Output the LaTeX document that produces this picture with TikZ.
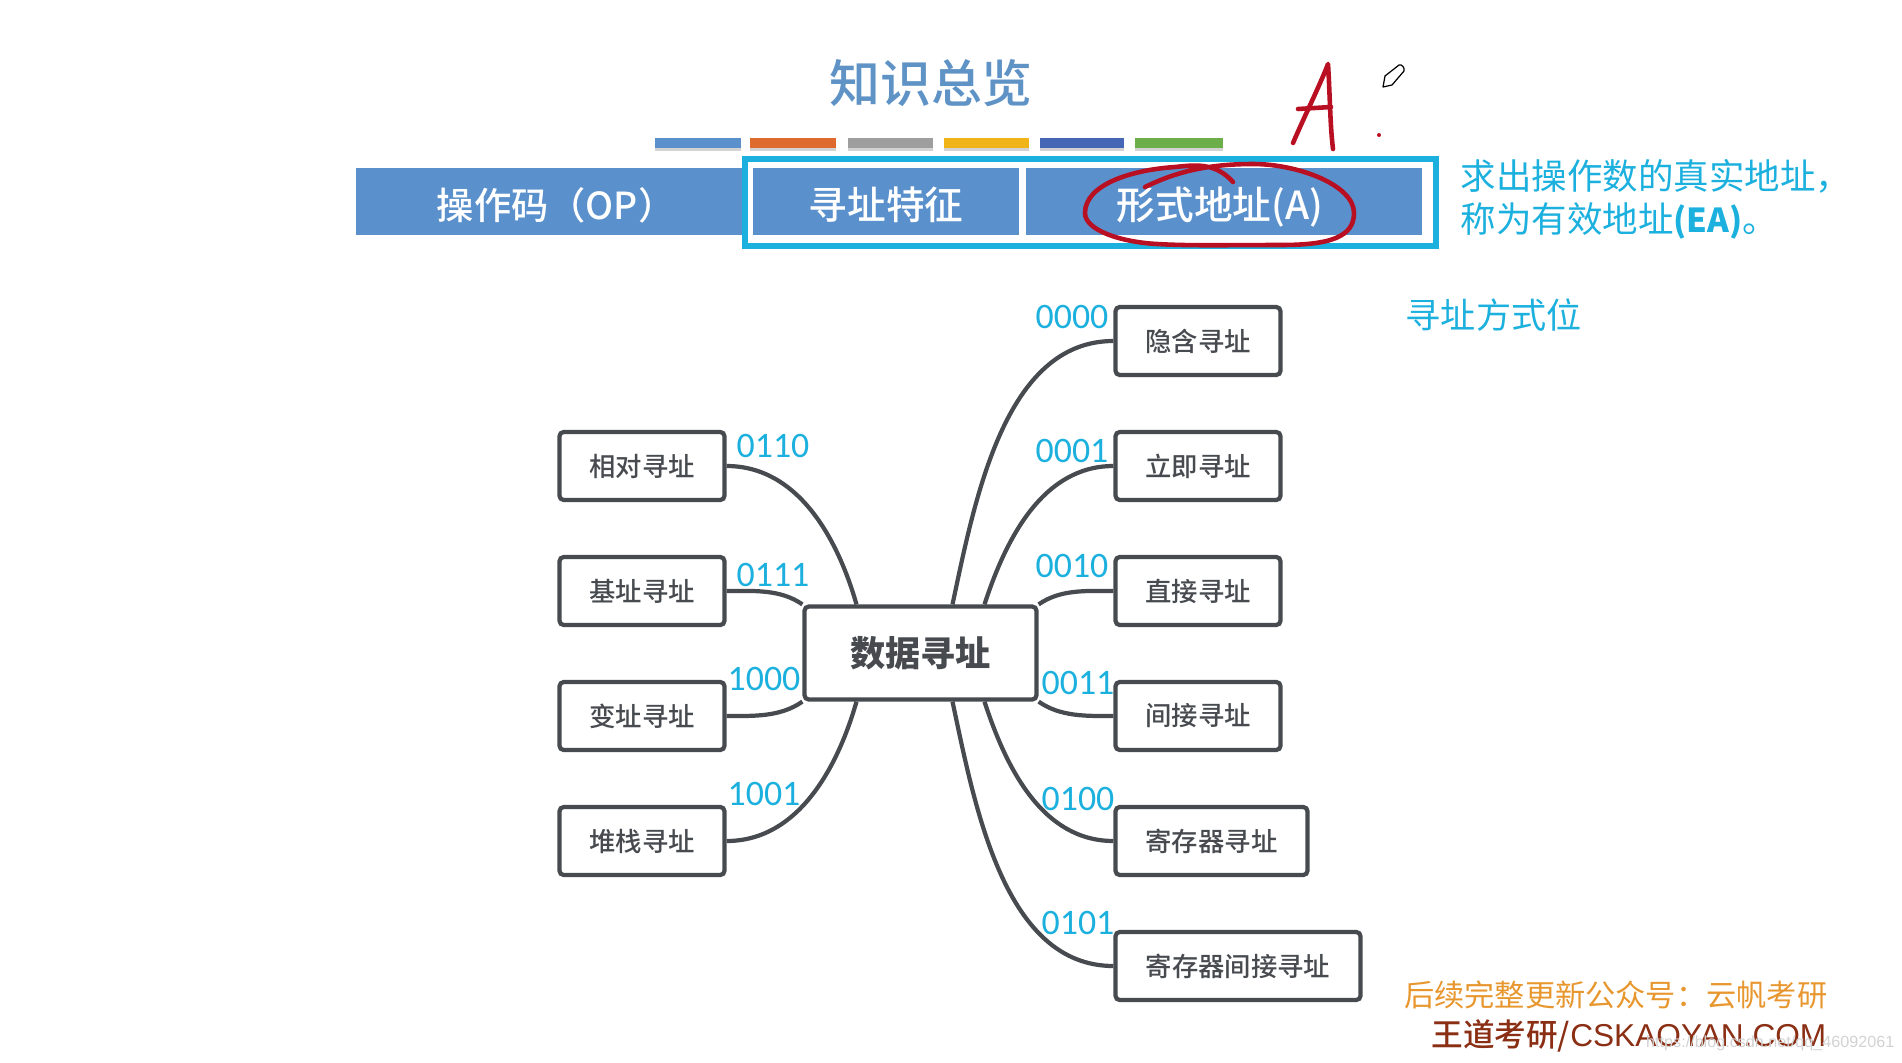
\documentclass[tikz,border=0pt]{standalone}
\usepackage{fontspec}
\setmainfont{Noto Sans CJK SC}
\newfontfamily\cjkmedium{Noto Sans CJK SC Medium}
\newfontfamily\arialfont{Liberation Sans}
\newfontfamily\digitfont{Carlito}
\usepackage{tikz}
\usetikzlibrary{arrows.meta,positioning,shadows}
\definecolor{barblue}{HTML}{5A90CC}
\definecolor{titleblue}{HTML}{5F93C6}
\definecolor{framecyan}{HTML}{1CB0DE}
\definecolor{boxgray}{HTML}{474B50}
\definecolor{inkred}{HTML}{B80F22}
\definecolor{signorange}{HTML}{E8962E}
\definecolor{signred}{HTML}{8A2E14}
\definecolor{barorange}{HTML}{DF6A2E}
\definecolor{bargray}{HTML}{9E9E9E}
\definecolor{baryellow}{HTML}{F0B418}
\definecolor{barindigo}{HTML}{4567B5}
\definecolor{bargreen}{HTML}{6BAE4A}

\begin{document}
\begin{tikzpicture}[
    box/.style={rectangle, draw=boxgray, fill=white, text=boxgray, line width=1.2pt,
                rounded corners=1.2pt, minimum height=0.68cm, inner sep=0pt,
                font=\cjkmedium\fontsize{7.5}{9}\selectfont},
    hub/.style={box, minimum width=2.32cm, minimum height=0.93cm,
                font=\fontsize{10}{12}\selectfont\bfseries},
    link/.style={draw=boxgray, line width=1.2pt},
    code/.style={text=framecyan, inner sep=0pt, font=\digitfont\fontsize{10.2}{12}\selectfont},
    field/.style={rectangle, fill=barblue, inner sep=0pt, minimum height=0.67cm},
    fieldtext/.style={text=white, inner sep=0pt, text height=0.4cm, text depth=0.05cm,
                      font=\cjkmedium\fontsize{11}{13}\selectfont},
    bar/.style={rectangle, minimum height=0.1cm, inner sep=0pt, drop shadow={shadow xshift=0pt, shadow yshift=-0.03cm, opacity=0.35}},
    note/.style={text=framecyan, inner sep=0pt, anchor=west},
    ink/.style={draw=inkred, line width=1.3pt, line cap=round, line join=round}
  ]
  \useasboundingbox (0,0) rectangle (19.02,-10.62);

  % heading
  \node[text=titleblue, inner sep=0pt, font=\cjkmedium\fontsize{14.5}{17}\selectfont] (title) at (9.31,-0.83) {知识总览};
  \node[bar, fill=barblue, minimum width=0.86cm] (bara) at (6.98,-1.43) {};
  \node[bar, fill=barorange, minimum width=0.86cm] (barb) at (7.93,-1.43) {};
  \node[bar, fill=bargray, minimum width=0.85cm] (barc) at (8.905,-1.43) {};
  \node[bar, fill=baryellow, minimum width=0.85cm] (bard) at (9.865,-1.43) {};
  \node[bar, fill=barindigo, minimum width=0.84cm] (bare) at (10.82,-1.43) {};
  \node[bar, fill=bargreen, minimum width=0.88cm] (barf) at (11.79,-1.43) {};

  % instruction fields
  \node[field, minimum width=3.86cm] (opcode) at (5.49,-2.015) {};
  \node[field, minimum width=2.66cm] (feature) at (8.86,-2.015) {};
  \node[field, minimum width=3.96cm] (addr) at (12.24,-2.015) {};
  \node[fieldtext, font=\cjkmedium\fontsize{10.6}{13}\selectfont] (optext) at (5.56,-2.015) {操作码（OP）};
  \node[fieldtext] (featuretext) at (8.86,-2.015) {寻址特征};
  \node[fieldtext] (addrtext) at (12.2,-2.015) {形式地址(A)};
  \node[rectangle, draw=framecyan, line width=1.5pt, inner sep=0pt, minimum width=6.91cm, minimum height=0.87cm] (frame) at (10.905,-2.025) {};
  \node[note, font=\fontsize{10.1}{12.5}\selectfont] (eaa) at (14.6,-1.76) {求出操作数的真实地址，};
  \node[note, font=\fontsize{10.1}{12.5}\selectfont] (eab) at (14.6,-2.21) {称为有效地址{\bfseries\fontsize{9.4}{12}\selectfont (EA)}。};
  \node[note, font=\fontsize{10}{12}\selectfont] (bits) at (14.05,-3.15) {寻址方式位};

  % mind map
  \node[hub] (main) at (9.205,-6.53) {数据寻址};

  \node[box, minimum width=1.65cm] (implied) at (11.98,-3.41) {隐含寻址};
  \node[box, minimum width=1.65cm] (immediate) at (11.98,-4.66) {立即寻址};
  \node[box, minimum width=1.65cm] (direct) at (11.98,-5.91) {直接寻址};
  \node[box, minimum width=1.65cm] (indirect) at (11.98,-7.16) {间接寻址};
  \node[box, minimum width=1.92cm] (register) at (12.115,-8.41) {寄存器寻址};
  \node[box, minimum width=2.45cm] (regindirect) at (12.38,-9.66) {寄存器间接寻址};

  \node[box, minimum width=1.65cm] (relative) at (6.42,-4.66) {相对寻址};
  \node[box, minimum width=1.65cm] (base) at (6.42,-5.91) {基址寻址};
  \node[box, minimum width=1.65cm] (index) at (6.42,-7.16) {变址寻址};
  \node[box, minimum width=1.65cm] (stack) at (6.42,-8.41) {堆栈寻址};

  \draw[link] ([xshift=0.32cm]main.north) to[out=78,in=180,looseness=0.9] (implied.west);
  \draw[link] ([xshift=0.64cm]main.north) to[out=72,in=180,looseness=0.95] (immediate.west);
  \draw[link] (main.north east) to[out=35,in=180,looseness=0.9] (direct.west);
  \draw[link] (main.south east) to[out=-35,in=180,looseness=0.9] (indirect.west);
  \draw[link] ([xshift=0.64cm]main.south) to[out=-72,in=180,looseness=0.95] (register.west);
  \draw[link] ([xshift=0.32cm]main.south) to[out=-78,in=180,looseness=0.9] (regindirect.west);

  \draw[link] ([xshift=-0.64cm]main.north) to[out=106,in=0,looseness=0.95] (relative.east);
  \draw[link] (main.north west) to[out=145,in=0,looseness=0.9] (base.east);
  \draw[link] (main.south west) to[out=-145,in=0,looseness=0.9] (index.east);
  \draw[link] ([xshift=-0.64cm]main.south) to[out=-106,in=0,looseness=0.95] (stack.east);

  \node[code] (cimplied) at (10.72,-3.17) {0000};
  \node[code] (cimmediate) at (10.72,-4.51) {0001};
  \node[code] (cdirect) at (10.72,-5.66) {0010};
  \node[code] (cindirect) at (10.78,-6.83) {0011};
  \node[code] (cregister) at (10.78,-7.99) {0100};
  \node[code] (cregindirect) at (10.78,-9.23) {0101};
  \node[code] (crelative) at (7.73,-4.46) {0110};
  \node[code] (cbase) at (7.73,-5.75) {0111};
  \node[code] (cindex) at (7.64,-6.79) {1000};
  \node[code] (cstack) at (7.64,-7.94) {1001};

  % handwriting
  \draw[ink] (12.93,-1.43) .. controls (13.05,-1.15) and (13.2,-0.85) .. (13.28,-0.64)
    .. controls (13.3,-0.95) and (13.3,-1.25) .. (13.33,-1.49);
  \draw[ink] (12.98,-1.09) -- (13.31,-1.07);
  \fill[inkred] (13.79,-1.35) circle (0.02);
  \draw[ink] (11.45,-1.87) .. controls (11.7,-1.75) and (12,-1.64) .. (12.53,-1.64)
    .. controls (12.98,-1.64) and (13.54,-1.85) .. (13.54,-2.13)
    .. controls (13.54,-2.37) and (13.3,-2.45) .. (12.81,-2.45)
    .. controls (12.3,-2.45) and (11.9,-2.46) .. (11.57,-2.44)
    .. controls (11.2,-2.42) and (10.85,-2.3) .. (10.85,-2.13)
    .. controls (10.85,-1.85) and (11.3,-1.7) .. (11.75,-1.67)
    .. controls (11.95,-1.65) and (12.15,-1.62) .. (12.33,-1.82);
  % pencil
  \draw[black, line width=0.35pt, line join=round, fill=white] (13.83,-0.87) -- (13.85,-0.76) -- (13.99,-0.65)
    .. controls (14.02,-0.64) and (14.05,-0.68) .. (14.04,-0.71) -- (13.92,-0.85) -- cycle;

  % sign-off
  \node[text=signorange, inner sep=0pt, anchor=east, font=\fontsize{8.6}{10}\selectfont] (signa) at (18.28,-9.95) {后续完整更新公众号：云帆考研};
  \node[text=signred, inner sep=0pt, anchor=east, font=\cjkmedium\fontsize{9}{11}\selectfont] (signb) at (18.27,-10.36) {王道考研/{\arialfont CSKAOYAN.COM}};
  \node[text=gray!35, inner sep=0pt, anchor=east, font=\arialfont\fontsize{4.6}{6}\selectfont] (url) at (18.95,-10.43) {https://blog.csdn.net/qq\_46092061};
\end{tikzpicture}
\end{document}
